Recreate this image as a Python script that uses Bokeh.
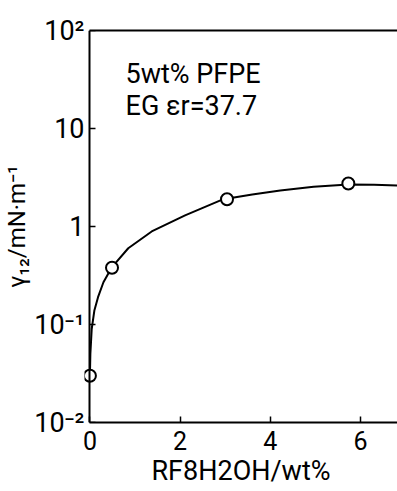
from bokeh.plotting import figure
from bokeh.models import FixedTicker, LinearAxis, LogAxis, Label, Range1d
from bokeh.embed import file_html
from bokeh.resources import INLINE

# measured points: RF8H2OH wt% vs interfacial tension (mN/m)
x_pts = [0.0, 0.49, 3.04, 5.73]
y_pts = [0.030, 0.38, 1.9, 2.75]

# smooth curve
x_curve = [0.0, 0.01, 0.04, 0.10, 0.18, 0.30, 0.48, 0.85, 1.37, 2.11, 2.96, 3.6, 4.22, 4.96, 5.73, 6.3, 6.9]
y_curve = [0.030, 0.05, 0.09, 0.14, 0.19, 0.27, 0.38, 0.60, 0.89, 1.30, 1.90, 2.12, 2.33, 2.55, 2.68, 2.66, 2.62]

x_ticks = [0, 2, 4, 6]
y_ticks = [0.01, 0.1, 1, 10, 100]
y_tick_labels = {0.01: "10⁻²", 0.1: "10⁻¹", 1: "1", 10: "10", 100: "10²"}

FONT = "Roboto"
X0, X1 = -0.12, 6.82

p = figure(width=397, height=491, y_axis_type="log",
           x_range=Range1d(X0, X1), y_range=Range1d(0.01, 100),
           output_backend="svg", toolbar_location=None,
           min_border_left=84, min_border_right=0, min_border_top=30, min_border_bottom=69)
p.outline_line_color = None
p.grid.visible = False
p.background_fill_color = "white"

for ax in (p.xaxis[0], p.yaxis[0]):
    ax.axis_line_width = 2
    ax.axis_line_color = "black"
    ax.major_tick_in = 6
    ax.major_tick_out = 0
    ax.major_tick_line_width = 1.5
    ax.minor_tick_line_color = None
    ax.major_label_text_font = FONT
    ax.major_label_text_color = "black"
    ax.axis_label_text_font = FONT
    ax.axis_label_text_font_style = "normal"
    ax.axis_label_text_color = "black"

p.xaxis.ticker = FixedTicker(ticks=x_ticks)
p.xaxis.bounds = (0, X1)
p.xaxis.major_label_text_font_size = "25px"
p.xaxis.major_label_standoff = 8
p.xaxis.axis_label = "RF8H2OH/wt%"
p.xaxis.axis_label_text_font_size = "27px"
p.xaxis.axis_label_standoff = 2

# labels-only left axis (at frame edge)
p.yaxis.ticker = FixedTicker(ticks=y_ticks)
p.yaxis.axis_line_color = None
p.yaxis.major_tick_line_color = None
p.yaxis.major_label_overrides = y_tick_labels
p.yaxis.major_label_text_font_size = "27px"
p.yaxis.major_label_standoff = 0
p.yaxis.axis_label = "γ₁₂/mN·m⁻¹"
p.yaxis.axis_label_text_font_size = "24px"
p.yaxis.axis_label_standoff = 0

# axis line and inward ticks at x = 0
yline = LogAxis(ticker=FixedTicker(ticks=y_ticks), fixed_location=0,
                axis_line_width=2, axis_line_color="black",
                major_tick_in=6, major_tick_out=0, major_tick_line_width=1.5,
                minor_tick_line_color=None, major_label_text_color=None,
                major_label_text_font_size="1px", major_label_standoff=0,
                major_label_overrides={t: " " for t in y_ticks})
p.add_layout(yline, "left")

top = LinearAxis(ticker=FixedTicker(ticks=[X1 + 10]), axis_line_width=2, axis_line_color="black",
                 major_label_text_color=None, major_label_text_font_size="1px",
                 major_label_standoff=0,
                 major_tick_line_color=None, minor_tick_line_color=None, bounds=(0, X1))
p.add_layout(top, "above")

p.line(x_curve, y_curve, line_color="black", line_width=2)
p.scatter(x_pts, y_pts, marker="circle", size=12, fill_color="white",
          line_color="black", line_width=2)

p.add_layout(Label(x=0.79, y=52, text="5wt% PFPE", text_font=FONT, text_font_size="27px",
                   text_baseline="top", text_color="black"))
p.add_layout(Label(x=0.79, y=24.5, text="EG εr=37.7", text_font=FONT, text_font_size="27px",
                   text_baseline="top", text_color="black"))

open("out.html", "w").write(file_html(p, INLINE))
